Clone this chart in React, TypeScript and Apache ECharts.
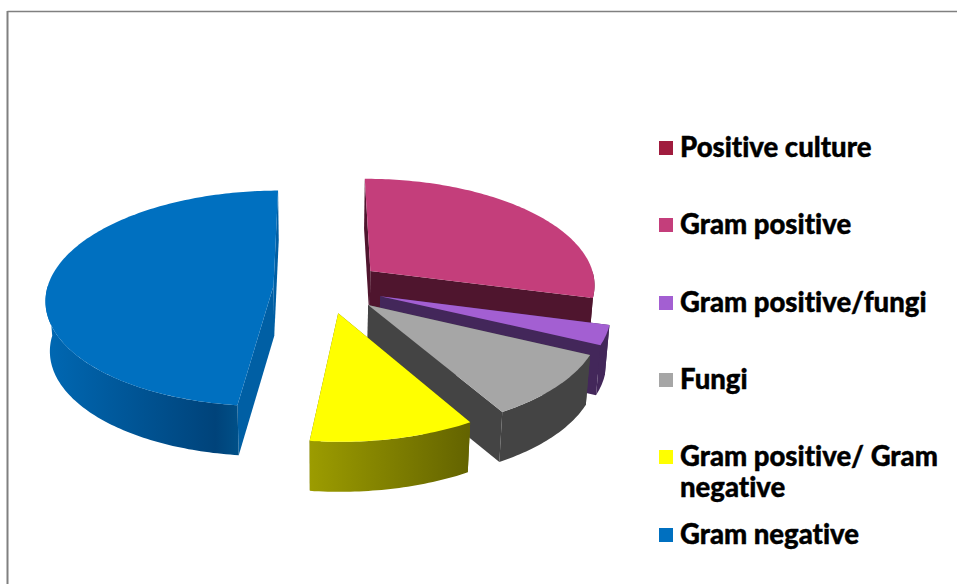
import React, { useEffect, useRef } from "react";
import * as echarts from "echarts";

// Share of each organism group, in percent, in legend order.
const groupNames = [
  "Positive culture",
  "Gram positive",
  "Gram positive/fungi",
  "Fungi",
  "Gram positive/ Gram\nnegative",
  "Gram negative",
];
const groupShares = [0, 29.2, 2.9, 9.6, 10.2, 48.1];
const groupColors = ["#a01c3e", "#c43e7b", "#a35fd2", "#a6a6a6", "#ffff00", "#0070c0"];
const sideColors = ["#50102a", "#4f152e", "#43275a", "#444444", "#6b6b00", "#005fa4"];
const rimStops: [number, string][][] = [
  [[0, "#50102a"], [1, "#50102a"]],
  [[0, "#4f152e"], [1, "#4f152e"]],
  [[0, "#43275a"], [1, "#43275a"]],
  [[0, "#444444"], [1, "#444444"]],
  [[0, "#9c9c00"], [1, "#636300"]],
  [[0, "#0068b3"], [0.88, "#00437a"], [1, "#005088"]],
];
const explodeBySlice = [0.24, 0.25, 0.25, 0.245, 0.245, 0.235];

// Tilted-disc projection of the pie.
const centerX = 326.5;
const centerY = 287;
const radiusX = 226;
const radiusY = 106.6;
const perspective = 0.118;
const thickness = 50;
const vanishX = 320;
const startAngle = -0.3;

const project = (wx: number, wy: number, lower: number): number[] => {
  const s = 1 / (1 - perspective * wy);
  const x = centerX + radiusX * wx * s;
  const y = centerY + radiusY * wy * s;
  return [x - (x - vanishX) * 0.016 * lower, y + thickness * lower];
};

const rad = (deg: number) => (deg * Math.PI) / 180;

const renderSlice = (params: any, api: any) => {
  const index = params.dataIndex;
  const value = api.value(0);
  if (!value) return { type: "group", children: [] };
  const total = groupShares.reduce((a, b) => a + b, 0);
  const before = groupShares.slice(0, index).reduce((a, b) => a + b, 0);
  const from = startAngle + (before / total) * 360;
  const to = from + (value / total) * 360;
  const mid = (from + to) / 2;
  const explode = explodeBySlice[index];
  const apexX = explode * Math.sin(rad(mid));
  const apexY = -explode * Math.cos(rad(mid));
  const rim = (deg: number, lower: number) =>
    project(apexX + Math.sin(rad(deg)), apexY - Math.cos(rad(deg)), lower);
  const apex = (lower: number) => project(apexX, apexY, lower);

  const arc = (a: number, b: number, lower: number) => {
    const pts: number[][] = [];
    const n = Math.max(2, Math.ceil(Math.abs(b - a)));
    for (let i = 0; i <= n; i++) pts.push(rim(a + ((b - a) * i) / n, lower));
    return pts;
  };

  const children: any[] = [];
  const side = sideColors[index];
  const wall = (deg: number) => ({
    type: "polygon",
    shape: { points: [apex(0), rim(deg, 0), rim(deg, 1), apex(1)] },
    style: { fill: side },
  });
  children.push(wall(from), wall(to));

  // The rim is only seen on the half of the disc that faces the viewer.
  const rimFrom = Math.max(from, 90);
  const rimTo = Math.min(to, 270);
  if (rimTo > rimFrom) {
    children.push({
      type: "polygon",
      shape: { points: [...arc(rimFrom, rimTo, 0), ...arc(rimTo, rimFrom, 1)] },
      style: {
        fill: new echarts.graphic.LinearGradient(
          0, 0, 1, 0,
          rimStops[index].map(([offset, color]) => ({ offset, color }))
        ),
      },
    });
  }

  children.push({
    type: "polygon",
    shape: { points: [apex(0), ...arc(from, to, 0)] },
    style: { fill: groupColors[index] },
  });
  return { type: "group", children };
};

export default function App() {
  const ref = useRef<HTMLDivElement>(null);
  useEffect(() => {
    const chart = echarts.init(ref.current!, undefined, { renderer: "svg" });
    const legendFont = "900 27.5px Lato";
    chart.setOption({
      animation: false,
      backgroundColor: "#ffffff",
      series: [
        {
          type: "custom",
          coordinateSystem: "none",
          silent: true,
          renderItem: renderSlice,
          data: groupShares.map((v, i) => ({ name: groupNames[i], value: [v] })),
        },
      ],
      graphic: [
        { type: "line", shape: { x1: 7.5, y1: 11.5, x2: 957, y2: 11.5 }, style: { stroke: "#808080", lineWidth: 1.5 } },
        { type: "line", shape: { x1: 7.5, y1: 11, x2: 7.5, y2: 584 }, style: { stroke: "#808080", lineWidth: 2 } },
        ...groupNames.flatMap((name, i) => {
          const top = 141 + Math.round(i * 77.3);
          return [
            { type: "rect", shape: { x: 659, y: top, width: 14, height: 14 }, style: { fill: groupColors[i] } },
            {
              type: "text",
              x: 680,
              y: top - 10,
              style: {
                text: name,
                font: legendFont,
                fill: "#000000",
                stroke: "#000000",
                lineWidth: 0.4,
                lineHeight: 31,
                textVerticalAlign: "top",
              },
            },
          ];
        }),
      ],
    });
    return () => chart.dispose();
  }, []);
  return (
    <>
      {/* The legend's inline font shorthand resets ligatures, so they are turned off here. */}
      <style>{'svg text { font-variant-ligatures: none !important; font-feature-settings: "liga" 0, "clig" 0, "calt" 0 !important; }'}</style>
      <div ref={ref} style={{ position: "fixed", left: 0, top: 0, width: 957, height: 584 }} />
    </>
  );
}
